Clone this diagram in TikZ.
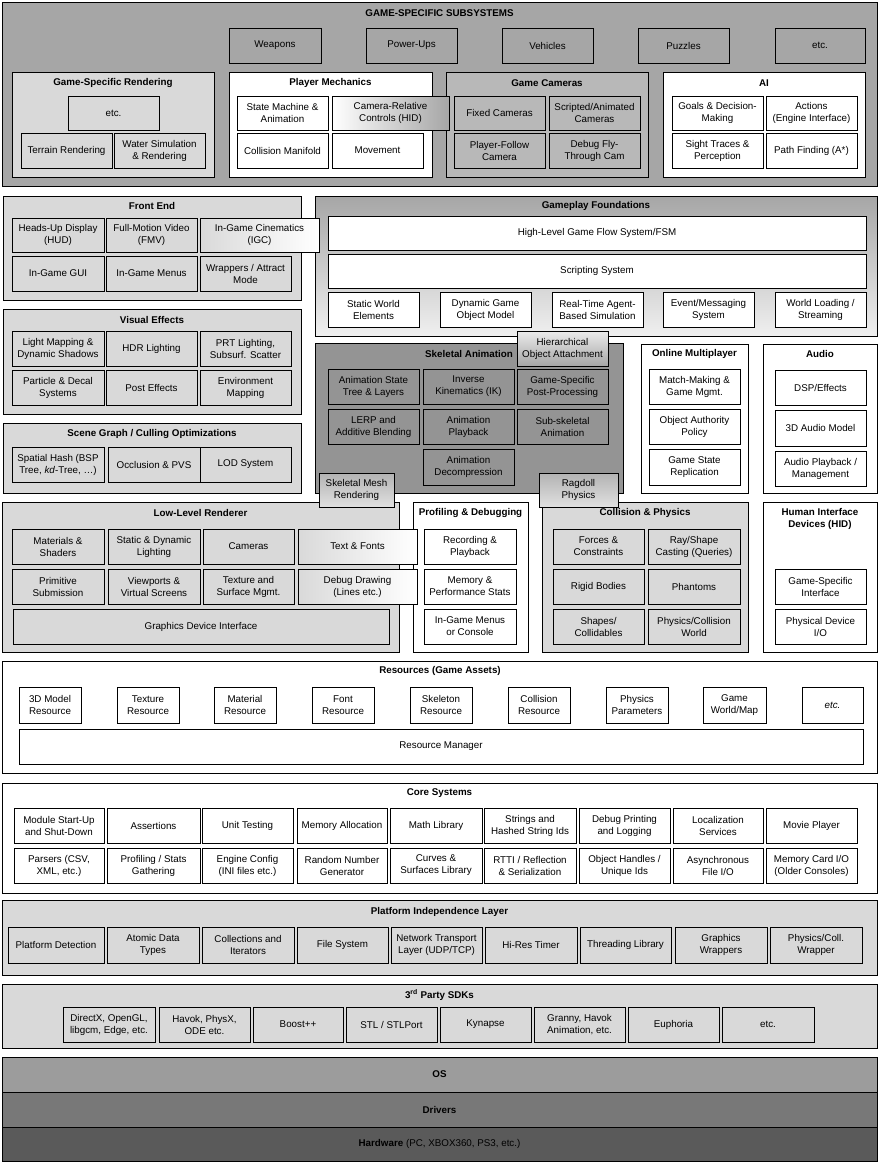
\documentclass[tikz,border=0pt]{standalone}
\usepackage{fontspec}
\setmainfont{Liberation Sans}
\definecolor{gmid}{HTML}{A6A6A6}
\definecolor{glight}{HTML}{D9D9D9}
\definecolor{gcam}{HTML}{B8B8B8}
\definecolor{gskel}{HTML}{949494}
\definecolor{gos}{HTML}{9C9C9C}
\definecolor{gdrv}{HTML}{787878}
\definecolor{ghw}{HTML}{5A5A5A}
\newcommand{\fs}{\fontsize{9.8}{12}\selectfont}
\newcommand{\fsb}{\fontsize{9.8}{12}\selectfont\bfseries}
\tikzset{
  box/.style={draw=black, line width=0.8pt, inner sep=0pt, align=center, font=\fs, text=black},
  ttl/.style={font=\fsb, inner sep=0pt, align=center},
  hoashade/.style={top color=white!92!black, bottom color=black!35},
  lowshade/.style={top color=black!30, bottom color=black!12},
  lrshade/.style={left color=glight, right color=white},
}
\newcommand{\bx}[7][]{\node[box,#1,minimum width={(#5-#3)*1pt},minimum height={(#6-#4)*1pt}] (#2) at ({(#3+#5)/2},{(#4+#6)/2}) {#7};}
\begin{document}
\begin{tikzpicture}[x=1pt,y=-1pt]
\useasboundingbox (0,0) rectangle (879,1162);
\fill[white] (0,0) rectangle (879,1162);

% ===== GAME-SPECIFIC SUBSYSTEMS =====
\bx[fill=gmid]{gss}{2}{2}{877}{186}{}
\node[ttl] (gsst) at (439.5,13) {GAME-SPECIFIC SUBSYSTEMS};
\bx[fill=gmid]{weap}{229}{28}{321}{63}{Weapons}
\bx[fill=gmid]{pwr}{366}{28}{457}{63}{Power-Ups}
\bx[fill=gmid]{veh}{502}{28}{593}{63}{Vehicles}
\bx[fill=gmid]{puz}{638}{28}{729}{63}{Puzzles}
\bx[fill=gmid]{gsetc}{775}{28}{865}{63}{etc.}

\bx[fill=glight]{gsr}{12}{72}{214}{177}{}
\node[ttl] (gsrt) at (113,83) {Game-Specific Rendering};
\bx[fill=glight]{gsretc}{68}{96}{159}{130}{etc.}
\bx[fill=glight]{terr}{21}{133}{112}{168}{Terrain Rendering}
\bx[fill=glight]{water}{114}{133}{205}{168}{Water Simulation\\\& Rendering}

\bx[fill=white]{pm}{229}{72}{432}{177}{}
\node[ttl] (pmt) at (330.5,83) {Player Mechanics};
\bx[fill=white]{smach}{237}{96}{328}{130}{State Machine \&\\Animation}
\bx[fill=white]{colman}{237}{133}{328}{168}{Collision Manifold}
\bx[fill=white]{move}{332}{133}{423}{168}{Movement}

\bx[fill=gcam]{gc}{446}{72}{648}{177}{}
\node[ttl] (gct) at (547,83) {Game Cameras};
\bx[fill=gcam]{fixc}{454}{96}{545}{130}{Fixed Cameras}
\bx[fill=gcam]{scrc}{549}{96}{640}{130}{Scripted/Animated\\Cameras}
\bx[fill=gcam]{pfc}{454}{133}{545}{168}{Player-Follow\\Camera}
\bx[fill=gcam]{dfc}{549}{133}{640}{168}{Debug Fly-\\Through Cam}
\bx[left color=white, right color=gmid]{crc}{332}{96}{449}{130}{Camera-Relative\\Controls (HID)}

\bx[fill=white]{ai}{663}{72}{865}{177}{}
\node[ttl] (ait) at (764,83) {AI};
\bx[fill=white]{goals}{672}{96}{763}{130}{Goals \& Decision-\\Making}
\bx[fill=white]{actions}{766}{96}{857}{130}{Actions\\(Engine Interface)}
\bx[fill=white]{sight}{672}{133}{763}{168}{Sight Traces \&\\Perception}
\bx[fill=white]{path}{766}{133}{857}{168}{Path Finding (A*)}

% ===== Gameplay Foundations =====
\bx[top color=gmid, bottom color=white!94!black]{gf}{315}{196}{877}{336}{}
\node[ttl] (gft) at (596,206) {Gameplay Foundations};
\bx[fill=white]{hlgf}{328}{216}{866}{250}{High-Level Game Flow System/FSM}
\bx[fill=white]{script}{328}{254}{866}{288}{Scripting System}
\bx[fill=white]{swe}{328}{292}{419}{327}{Static World\\Elements}
\bx[fill=white]{dgom}{440}{292}{531}{327}{Dynamic Game\\Object Model}
\bx[fill=white]{rtab}{552}{292}{643}{327}{Real-Time Agent-\\Based Simulation}
\bx[fill=white]{evt}{663}{292}{754}{327}{Event/Messaging\\System}
\bx[fill=white]{wls}{775}{292}{866}{327}{World Loading /\\Streaming}

% ===== Front End =====
\bx[fill=glight]{fe}{3}{196}{301}{300}{}
\node[ttl] (fet) at (152,206) {Front End};
\bx[fill=glight]{hud}{12}{218}{104}{252}{Heads-Up Display\\(HUD)}
\bx[fill=glight]{fmv}{106}{218}{197}{252}{Full-Motion Video\\(FMV)}
\bx[lrshade]{igc}{200}{218}{319}{252}{In-Game Cinematics\\(IGC)}
\bx[fill=glight]{igui}{12}{256}{104}{291}{In-Game GUI}
\bx[fill=glight]{igm}{106}{256}{197}{291}{In-Game Menus}
\bx[fill=glight]{wrap}{200}{256}{291}{291}{Wrappers / Attract\\Mode}

% ===== Visual Effects =====
\bx[fill=glight]{vfx}{3}{309}{301}{414}{}
\node[ttl] (vfxt) at (152,320) {Visual Effects};
\bx[fill=glight]{lmap}{12}{331}{104}{366}{Light Mapping \&\\Dynamic Shadows}
\bx[fill=glight]{hdr}{106}{331}{197}{366}{HDR Lighting}
\bx[fill=glight]{prt}{200}{331}{291}{366}{PRT Lighting,\\Subsurf. Scatter}
\bx[fill=glight]{part}{12}{370}{104}{405}{Particle \& Decal\\Systems}
\bx[fill=glight]{post}{106}{370}{197}{405}{Post Effects}
\bx[fill=glight]{env}{200}{370}{291}{405}{Environment\\Mapping}

% ===== Scene Graph =====
\bx[fill=glight]{sg}{3}{423}{301}{493}{}
\node[ttl] (sgt) at (152,434) {Scene Graph / Culling Optimizations};
\bx[fill=glight]{spat}{12}{447}{104}{482}{Spatial Hash (BSP\\Tree, \textit{kd}-Tree, …)}
\bx[fill=glight]{occ}{108}{447}{200}{482}{Occlusion \& PVS}
\bx[fill=glight]{lod}{200}{447}{291}{482}{LOD System}

% ===== Skeletal Animation =====
\bx[fill=gskel]{sa}{315}{343}{623}{493}{}
\node[ttl] (sat) at (469,354) {Skeletal Animation};
\bx[fill=gskel]{ast}{328}{369}{419}{404}{Animation State\\Tree \& Layers}
\bx[fill=gskel]{ik}{423}{369}{514}{404}{Inverse\\Kinematics (IK)}
\bx[fill=gskel]{gspp}{517}{369}{608}{404}{Game-Specific\\Post-Processing}
\bx[fill=gskel]{lerp}{328}{409}{419}{444}{LERP and\\Additive Blending}
\bx[fill=gskel]{apb}{423}{409}{514}{444}{Animation\\Playback}
\bx[fill=gskel]{sub}{517}{409}{608}{444}{Sub-skeletal\\Animation}
\bx[fill=gskel]{adec}{423}{449}{514}{485}{Animation\\Decompression}
\bx[hoashade]{hoa}{517}{331}{608}{366}{Hierarchical\\Object Attachment}

% ===== Online Multiplayer =====
\bx[fill=white]{om}{641}{344}{748}{493}{}
\node[ttl] (omt) at (694.5,354) {Online Multiplayer};
\bx[fill=white]{mm}{649}{369}{740}{404}{Match-Making \&\\Game Mgmt.}
\bx[fill=white]{oap}{649}{409}{740}{444}{Object Authority\\Policy}
\bx[fill=white]{gsrep}{649}{449}{740}{485}{Game State\\Replication}

% ===== Audio =====
\bx[fill=white]{aud}{763}{344}{877}{493}{}
\node[ttl] (audt) at (820,354) {Audio};
\bx[fill=white]{dsp}{775}{370}{866}{405}{DSP/Effects}
\bx[fill=white]{a3d}{775}{410}{866}{446}{3D Audio Model}
\bx[fill=white]{apm}{775}{451}{866}{486}{Audio Playback /\\Management}

% ===== Low-Level Renderer =====
\bx[fill=glight]{llr}{2}{502}{399}{652}{}
\node[ttl] (llrt) at (200.5,513) {Low-Level Renderer};
\bx[fill=glight]{mat}{12}{529}{104}{564}{Materials \&\\Shaders}
\bx[fill=glight]{sdl}{108}{529}{200}{564}{Static \& Dynamic\\Lighting}
\bx[fill=glight]{cams}{203}{529}{294}{564}{Cameras}
\bx[fill=glight]{prim}{12}{569}{104}{604}{Primitive\\Submission}
\bx[fill=glight]{vp}{108}{569}{200}{604}{Viewports \&\\Virtual Screens}
\bx[fill=glight]{tex}{203}{569}{294}{604}{Texture and\\Surface Mgmt.}
\bx[fill=glight]{gdi}{13}{609}{389}{644}{Graphics Device Interface}

% ===== Profiling & Debugging =====
\bx[fill=white]{pd}{413}{502}{528}{652}{}
\node[ttl] (pdt) at (470.5,513) {Profiling \& Debugging};
\bx[fill=white]{rec}{424}{529}{516}{564}{Recording \&\\Playback}
\bx[fill=white]{memp}{424}{569}{516}{604}{Memory \&\\Performance Stats}
\bx[fill=white]{igmc}{424}{609}{516}{644}{In-Game Menus\\or Console}

\bx[lrshade]{txt}{298}{529}{417}{564}{Text \& Fonts}
\bx[lrshade]{dbgd}{298}{569}{417}{604}{Debug Drawing\\(Lines etc.)}

% ===== Collision & Physics =====
\bx[fill=glight]{cp}{542}{502}{748}{652}{}
\node[ttl] (cpt) at (645,513) {Collision \& Physics};
\bx[fill=glight]{force}{553}{529}{644}{564}{Forces \&\\Constraints}
\bx[fill=glight]{ray}{648}{529}{740}{564}{Ray/Shape\\Casting (Queries)}
\bx[fill=glight]{rigid}{553}{569}{644}{604}{Rigid Bodies}
\bx[fill=glight]{phan}{648}{569}{740}{604}{Phantoms}
\bx[fill=glight]{shapes}{553}{609}{644}{644}{Shapes/\\Collidables}
\bx[fill=glight]{pcw}{648}{609}{740}{644}{Physics/Collision\\World}

% ===== HID =====
\bx[fill=white]{hid}{763}{502}{877}{652}{}
\node[ttl] (hidt) at (820,519) {Human Interface\\Devices (HID)};
\bx[fill=white]{gsi}{775}{569}{866}{604}{Game-Specific\\Interface}
\bx[fill=white]{pdio}{775}{609}{866}{644}{Physical Device\\I/O}

% overlapping boxes
\bx[lowshade]{smr}{319}{473}{394}{507}{Skeletal Mesh\\Rendering}
\bx[lowshade]{rag}{539}{473}{618}{507}{Ragdoll\\Physics}

% ===== Resources =====
\bx[fill=white]{res}{2}{661}{877}{773}{}
\node[ttl] (rest) at (440,671) {Resources (Game Assets)};
\bx[fill=white]{r3d}{19}{687}{81}{723}{3D Model\\Resource}
\bx[fill=white]{rtex}{117}{687}{179}{723}{Texture\\Resource}
\bx[fill=white]{rmat}{214}{687}{276}{723}{Material\\Resource}
\bx[fill=white]{rfont}{312}{687}{374}{723}{Font\\Resource}
\bx[fill=white]{rskel}{410}{687}{472}{723}{Skeleton\\Resource}
\bx[fill=white]{rcol}{508}{687}{570}{723}{Collision\\Resource}
\bx[fill=white]{rphys}{606}{687}{668}{723}{Physics\\Parameters}
\bx[fill=white]{rworld}{703}{687}{766}{723}{Game\\World/Map}
\bx[fill=white]{retc}{802}{687}{863}{723}{\textit{etc.}}
\bx[fill=white]{rman}{19}{729}{863}{764}{Resource Manager}

% ===== Core Systems =====
\bx[fill=white]{core}{2}{783}{877}{893}{}
\node[ttl] (coret) at (439.5,793) {Core Systems};
\bx[fill=white]{c11}{14}{808}{104}{843}{Module Start-Up\\and Shut-Down}
\bx[fill=white]{c12}{107}{808}{200}{843}{Assertions}
\bx[fill=white]{c13}{202}{808}{293}{843}{Unit Testing}
\bx[fill=white]{c14}{297}{808}{387}{843}{Memory Allocation}
\bx[fill=white]{c15}{390}{808}{482}{843}{Math Library}
\bx[fill=white]{c16}{484}{808}{576}{843}{Strings and\\Hashed String Ids}
\bx[fill=white]{c17}{579}{808}{670}{843}{Debug Printing\\and Logging}
\bx[fill=white]{c18}{673}{808}{763}{843}{Localization\\Services}
\bx[fill=white]{c19}{766}{808}{857}{843}{Movie Player}
\bx[fill=white]{c21}{14}{848}{104}{883}{Parsers (CSV,\\XML, etc.)}
\bx[fill=white]{c22}{107}{848}{200}{883}{Profiling / Stats\\Gathering}
\bx[fill=white]{c23}{202}{848}{293}{883}{Engine Config\\(INI files etc.)}
\bx[fill=white]{c24}{297}{848}{387}{883}{Random Number\\Generator}
\bx[fill=white]{c25}{390}{848}{482}{883}{Curves \&\\Surfaces Library}
\bx[fill=white]{c26}{484}{848}{576}{883}{RTTI / Reflection\\\& Serialization}
\bx[fill=white]{c27}{579}{848}{670}{883}{Object Handles /\\Unique Ids}
\bx[fill=white]{c28}{673}{848}{763}{883}{Asynchronous\\File I/O}
\bx[fill=white]{c29}{766}{848}{857}{883}{Memory Card I/O\\(Older Consoles)}

% ===== Platform Independence Layer =====
\bx[fill=glight]{pil}{2}{900}{877}{975}{}
\node[ttl] (pilt) at (439.5,912) {Platform Independence Layer};
\bx[fill=glight]{p1}{8}{927}{104}{963}{Platform Detection}
\bx[fill=glight]{p2}{107}{927}{199}{963}{Atomic Data\\Types}
\bx[fill=glight]{p3}{202}{927}{294}{963}{Collections and\\Iterators}
\bx[fill=glight]{p4}{297}{927}{388}{963}{File System}
\bx[fill=glight]{p5}{391}{927}{482}{963}{Network Transport\\Layer (UDP/TCP)}
\bx[fill=glight]{p6}{485}{927}{577}{963}{Hi-Res Timer}
\bx[fill=glight]{p7}{580}{927}{671}{963}{Threading Library}
\bx[fill=glight]{p8}{675}{927}{767}{963}{Graphics\\Wrappers}
\bx[fill=glight]{p9}{770}{927}{862}{963}{Physics/Coll.\\Wrapper}

% ===== 3rd Party SDKs =====
\bx[fill=glight]{sdk}{2}{984}{877}{1048}{}
\node[ttl] (sdkt) at (439.5,995) {3\textsuperscript{rd} Party SDKs};
\bx[fill=glight]{s1}{63}{1007}{155}{1042}{DirectX, OpenGL,\\libgcm, Edge, etc.}
\bx[fill=glight]{s2}{159}{1007}{250}{1042}{Havok, PhysX,\\ODE etc.}
\bx[fill=glight]{s3}{253}{1007}{343}{1042}{Boost++}
\bx[fill=glight]{s4}{346}{1007}{437}{1042}{STL / STLPort}
\bx[fill=glight]{s5}{440}{1007}{531}{1042}{Kynapse}
\bx[fill=glight]{s6}{534}{1007}{625}{1042}{Granny, Havok\\Animation, etc.}
\bx[fill=glight]{s7}{628}{1007}{719}{1042}{Euphoria}
\bx[fill=glight]{s8}{722}{1007}{814}{1042}{etc.}

% ===== OS / Drivers / Hardware =====
\bx[fill=gos]{os}{2}{1057}{877}{1092}{\textbf{OS}}
\bx[fill=gdrv]{drv}{2}{1092}{877}{1127}{\textbf{Drivers}}
\bx[fill=ghw]{hw}{2}{1127}{877}{1161}{\textbf{Hardware} (PC, XBOX360, PS3, etc.)}
\end{tikzpicture}
\end{document}
